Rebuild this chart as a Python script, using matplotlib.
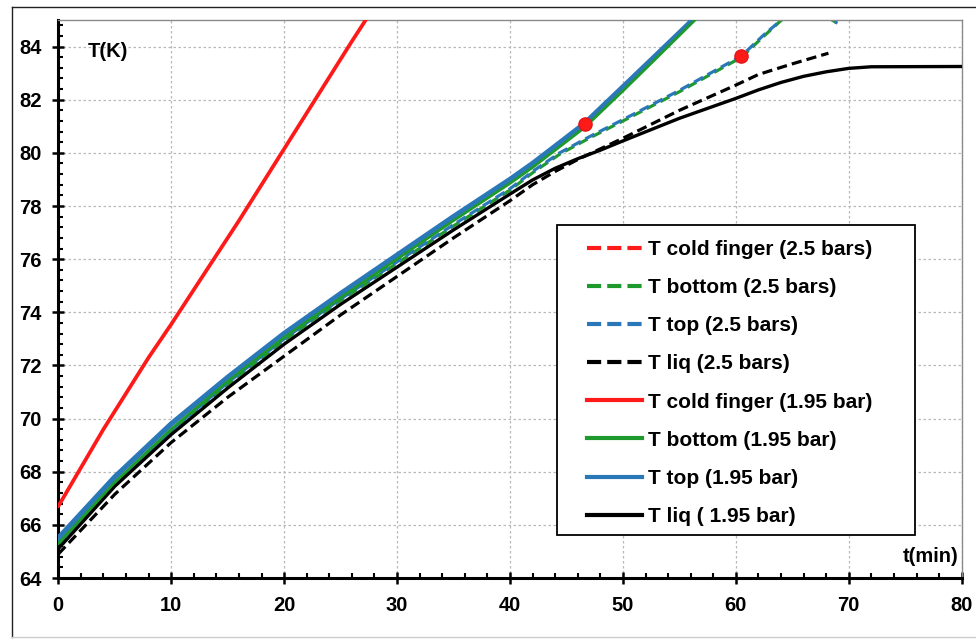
import matplotlib
matplotlib.use("Agg")
import matplotlib.pyplot as plt
from matplotlib.lines import Line2D
from matplotlib.patches import Rectangle
from matplotlib.ticker import MultipleLocator

plt.rcParams['font.family'] = ['Liberation Sans', 'DejaVu Sans']
plt.rcParams['font.weight'] = 'bold'

# ---------------- data ----------------
# 2.5 bars series
cold_25_t = []          # not visible inside the plotted range
cold_25_T = []
bottom_25_t = [0, 5, 10, 15, 20, 25, 30, 35, 40, 42, 44.4, 47, 50, 55, 60.5, 62.5, 64.3, 66.5, 69.0]
bottom_25_T = [65.25, 67.5, 69.5, 71.3, 72.95, 74.45, 75.85, 77.25, 78.6, 79.25, 79.95, 80.55, 81.2, 82.3, 83.6, 84.4, 85.1, 85.5, 84.88]
top_25_t = [0, 5, 10, 15, 20, 25, 30, 35, 40, 42, 44.4, 47, 50, 55, 60.5, 62.5, 64.3, 66.5, 69.0]
top_25_T = [65.3, 67.55, 69.55, 71.35, 73.0, 74.5, 75.9, 77.3, 78.65, 79.3, 80.0, 80.6, 81.25, 82.35, 83.65, 84.45, 85.1, 85.5, 84.88]
liq_25_t = [0, 5, 10, 15, 20, 25, 30, 35, 40, 42, 44, 46, 48, 50, 55, 60, 62, 65, 68.2]
liq_25_T = [64.9, 67.15, 69.1, 70.8, 72.35, 73.9, 75.35, 76.8, 78.2, 78.8, 79.3, 79.75, 80.15, 80.55, 81.6, 82.55, 82.95, 83.35, 83.75]

# 1.95 bar series
cold_195_t = [0, 2, 4, 6, 8, 10, 12, 14, 16, 18, 20, 22, 24, 26, 27.3]
cold_195_T = [66.7, 68.15, 69.6, 70.95, 72.3, 73.55, 74.85, 76.15, 77.45, 78.8, 80.15, 81.5, 82.85, 84.2, 85.05]
bottom_195_t = [0, 5, 10, 15, 20, 25, 30, 35, 40, 42, 44, 46.6, 48, 50, 53, 56.5]
bottom_195_T = [65.3, 67.6, 69.6, 71.4, 73.05, 74.55, 76.0, 77.45, 78.85, 79.45, 80.1, 80.95, 81.52, 82.33, 83.58, 85.05]
top_195_t = [0, 5, 10, 15, 20, 25, 30, 35, 40, 42, 44, 46.6, 48, 50, 53, 56.3]
top_195_T = [65.5, 67.8, 69.8, 71.55, 73.2, 74.7, 76.15, 77.6, 79.0, 79.6, 80.25, 81.1, 81.67, 82.48, 83.7, 85.05]
liq_195_t = [0, 5, 10, 15, 20, 25, 30, 35, 40, 42, 44, 46, 48, 50, 55, 60, 62, 64, 66, 68, 70, 72, 80]
liq_195_T = [65.1, 67.45, 69.4, 71.15, 72.8, 74.3, 75.7, 77.1, 78.45, 78.98, 79.42, 79.78, 80.1, 80.45, 81.3, 82.05, 82.37, 82.65, 82.88, 83.05, 83.18, 83.24, 83.25]

# highlighted points
dot_t = [46.65, 60.5]
dot_T = [81.1, 83.65]

labels = ["T cold finger (2.5 bars)", "T bottom (2.5 bars)", "T top (2.5 bars)",
          "T liq (2.5 bars)", "T cold finger (1.95 bar)", "T bottom (1.95 bar)",
          "T top (1.95 bar)", "T liq ( 1.95 bar)"]
x_ticks = [0, 10, 20, 30, 40, 50, 60, 70, 80]
y_ticks = [64, 66, 68, 70, 72, 74, 76, 78, 80, 82, 84]

RED = '#ff1a1a'
GREEN = '#1e9a2c'
BLUE = '#2b78b8'
BLACK = '#000000'

W, H = 976, 642
fig = plt.figure(figsize=(W / 100, H / 100), dpi=100)
ax = fig.add_axes([58.3 / W, 1 - 578 / H, (961.7 - 58.3) / W, (578 - 20) / H])

dash = (0, (3.2, 1.6))
# 2.5 bars (dashed)
ax.plot(cold_25_t, cold_25_T, color=RED, lw=2.3, ls=dash, zorder=2)
ax.plot(bottom_25_t, bottom_25_T, color=GREEN, lw=2.3, ls=dash, zorder=2)
ax.plot(top_25_t, top_25_T, color=BLUE, lw=2.3, ls=(2.4, (3.2, 1.6)), zorder=2.1)
# 1.95 bar (solid)
ax.plot(cold_195_t, cold_195_T, color=RED, lw=2.7, zorder=3, solid_capstyle='round')
ax.plot(top_195_t, top_195_T, color=BLUE, lw=3.8, zorder=3)
ax.plot(bottom_195_t, bottom_195_T, color=GREEN, lw=2.0, zorder=3.1)
ax.plot(liq_195_t, liq_195_T, color=BLACK, lw=2.4, zorder=3)
ax.plot(liq_25_t, liq_25_T, color=BLACK, lw=2.3, ls=dash, zorder=2.5)
ax.plot(dot_t, dot_T, 'o', color=RED, ms=9.5, mec='#e01818', zorder=5)

ax.set_xlim(0, 80)
ax.set_ylim(64, 85)
ax.set_xticks(x_ticks)
ax.set_yticks(y_ticks)
ax.xaxis.set_minor_locator(MultipleLocator(2))
ax.yaxis.set_minor_locator(MultipleLocator(0.4))
ax.tick_params(which='major', direction='inout', length=8, width=1.8, labelsize=14.5, color='black')
ax.tick_params(axis='x', which='major', pad=9)
ax.tick_params(axis='y', which='major', pad=8)
ax.tick_params(which='minor', direction='in', length=3.5, width=1.5, color='black')
for lab in ax.get_xticklabels() + ax.get_yticklabels():
    lab.set_fontweight('bold')

ax.grid(True, which='major', color='#b8b8b8', lw=0.9, ls=(0, (2, 2)))
ax.set_axisbelow(True)
for s in ['left', 'bottom']:
    ax.spines[s].set_linewidth(2.2)
    ax.spines[s].set_color('black')
for s in ['top', 'right']:
    ax.spines[s].set_linewidth(1.0)
    ax.spines[s].set_color('#8a8a8a')

ax.text(2.6, 83.8, 'T(K)', fontsize=14.5, fontweight='bold', va='center', ha='left')
ax.text(79.7, 64.8, 't(min)', fontsize=14.5, fontweight='bold', va='center', ha='right')

# legend
hd = (0, (3.4, 1.45))
handles = [
    Line2D([], [], color=RED, lw=3, ls=hd),
    Line2D([], [], color=GREEN, lw=3, ls=hd),
    Line2D([], [], color=BLUE, lw=3, ls=hd),
    Line2D([], [], color=BLACK, lw=3, ls=hd),
    Line2D([], [], color=RED, lw=3),
    Line2D([], [], color=GREEN, lw=3),
    Line2D([], [], color=BLUE, lw=3),
    Line2D([], [], color=BLACK, lw=3),
]
ax.set_zorder(1)
fig.add_artist(Rectangle((557 / W, 1 - 535 / H), (915 - 557) / W, (535 - 225) / H,
                         transform=fig.transFigure, fill=True, facecolor='white',
                         edgecolor='black', lw=1.3, zorder=4))
leg = fig.legend(handles, labels, loc='upper left',
                 bbox_to_anchor=(577 / W, 1 - 229.5 / H),
                 frameon=False, borderpad=0, handlelength=2.64, handletextpad=0.25,
                 labelspacing=0.92, prop={'size': 15, 'weight': 'bold'})
leg.set_zorder(6)

# outer frame
fig.add_artist(Line2D([12 / W, 12 / W], [1 - 7 / H, 1 - 637 / H], transform=fig.transFigure,
                      color='#222222', lw=1.0))
fig.add_artist(Line2D([12 / W, 1.0], [1 - 7 / H, 1 - 7 / H], transform=fig.transFigure,
                      color='#222222', lw=1.0))
fig.add_artist(Line2D([12 / W, 1.0], [1 - 637 / H, 1 - 637 / H], transform=fig.transFigure,
                      color='#cccccc', lw=1.0))

fig.savefig('out.png', dpi=100)
